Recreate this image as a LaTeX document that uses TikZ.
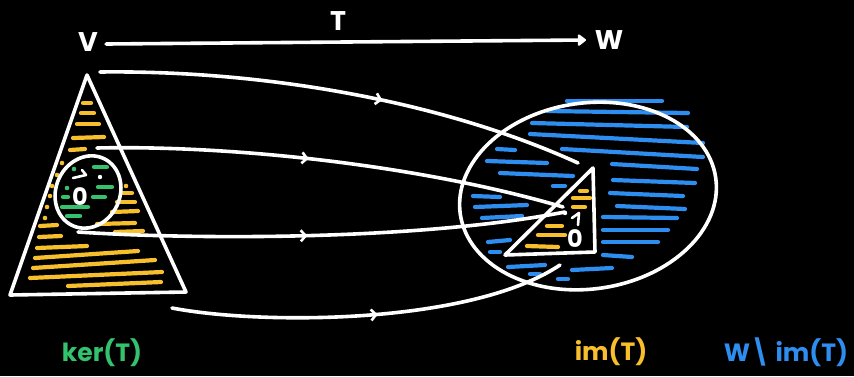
\documentclass[tikz,border=0pt]{standalone}
\usepackage{fontspec}
\setmainfont{Poppins}
\usetikzlibrary{arrows.meta,decorations.markings}
\definecolor{hyel}{HTML}{F7BF2B}
\definecolor{hgrn}{HTML}{34C36C}
\definecolor{hblu}{HTML}{2D8EF0}
\tikzset{
  wline/.style={draw=white,line width=3.6pt,line cap=round,line join=round},
  hy/.style={draw=hyel,line width=4.2pt,line cap=round},
  hg/.style={draw=hgrn,line width=4.2pt,line cap=round},
  hb/.style={draw=hblu,line width=4.2pt,line cap=round},
  harpline/.style={draw=white,line width=2.6pt,line cap=round,line join=round},
  flow/.style={wline,postaction={decorate},
    decoration={markings,mark=at position #1 with {\arrow[white,line width=2.6pt]{Straight Barb[length=5pt,width=11pt]}}}},
  lbl/.style={text=white,font=\fontsize{27}{30}\selectfont\bfseries,inner sep=0pt},
  bot/.style={font=\fontsize{25}{28}\selectfont\bfseries,inner sep=0pt},
  zero/.style={text=white,font=\fontsize{24}{26}\selectfont\bfseries,inner sep=0pt}
}
\begin{document}
\begin{tikzpicture}[x=1pt,y=-1pt]
\fill[black] (0,0) rectangle (854,376);
\useasboundingbox (0,0) rectangle (854,376);
% left triangle hatching (yellow)
\foreach \a/\b/\c/\d in {83/103/91/103, 81/113/94/113, 77/124/99/124, 73/138/104/137, 70/150/85/149,
  123/193/132/193, 117/202/135/202, 112/212/138/211, 97/224/135/223, 115/232/143/231,
  40/226/57/225, 39/237/61/236, 37/248/87/246, 35/258/138/251, 33/268/155/260, 30/278/162/272, 68/286/161/282}
  {\draw[hy] (\a,\b) -- (\c,\d);}
\foreach \p/\q in {62/163, 57/175, 52/186, 50/196, 47/207, 45/218, 126/186}
  {\fill[hyel] (\p,\q) circle (2.3pt);}
% green hatching in kernel
\foreach \a/\b/\c/\d in {94/167/107/167, 98/187/112/187, 63/197/68/197, 93/197/105/197, 62/207/88/207, 67/216/80/216}
  {\draw[hg] (\a,\b) -- (\c,\d);}
\foreach \p/\q in {74/169, 67/188}
  {\fill[hgrn] (\p,\q) circle (2.3pt);}
% blue hatching in W
\foreach \a/\b/\c/\d in {567/101/662/101, 547/111/688/113, 532/123/687/127, 530/134/703/143, 562/149/703/157,
  497/149/515/150, 487/161/547/163, 612/164/697/169, 500/173/573/176, 613/180/695/183, 553/186/565/186,
  473/196/500/197, 610/193/683/196, 475/207/527/205, 617/206/685/209, 482/218/522/216, 603/217/677/218,
  488/242/510/240, 603/230/668/230, 603/242/658/242, 490/252/500/252, 603/255/632/257, 508/267/545/265,
  530/274/540/274, 572/270/612/268, 558/279/568/279}
  {\draw[hb] (\a,\b) -- (\c,\d);}
% yellow hatching in image
\foreach \a/\b/\c/\d in {580/191/587/191, 573/198/590/198, 573/207/585/207, 547/226/562/226, 538/235/565/235, 527/246/558/247}
  {\draw[hy] (\a,\b) -- (\c,\d);}
% shapes
\draw[wline] (87,75) -- (186,292) -- (10,295) -- cycle;
\draw[wline,rotate around={-25:(88,192)}] (88,192) ellipse [x radius=32pt, y radius=37pt];
\draw[wline,rotate around={8:(588,196)}] (588,196) ellipse [x radius=129pt, y radius=93pt];
\draw[wline] (593,168) -- (595,252) -- (505,255) -- cycle;
% zero vectors
\node[zero] (z1) at (80,197) {0};
\draw[harpline] (73,178) -- (86,175) -- (82,170);
\node[zero] (z2) at (575,239) {0};
\draw[harpline] (578,225) -- (579,213) -- (572,218);
\fill[white] (100,177) circle (2.2pt);
\fill[white] (565,213) circle (2.2pt);
% labels
\node[lbl] (V) at (88,42) {V};
\node[lbl] (W) at (609,40) {W};
\node[lbl] (T) at (338,21) {T};
\draw[wline,-{Triangle[round,length=9pt,width=13pt]}] (V.east) ++(8,2) coordinate (va) (va) -- (586,40) coordinate (wa);
% mapping curves
\coordinate (s1) at (100,72);  \coordinate (e1) at (578,163);
\coordinate (s2) at (97,148);  \coordinate (e2) at (563,207);
\coordinate (s3) at (78,232);  \coordinate (e3) at (565,212);
\coordinate (s4) at (172,308); \coordinate (e4) at (560,265);
\draw[flow=0.58] (s1) .. controls (260,70) and (440,100) .. (e1);
\draw[flow=0.45] (s2) .. controls (230,145) and (420,165) .. (e2);
\draw[flow=0.47] (s3) .. controls (200,240) and (420,240) .. (e3);
\draw[flow=0.52] (s4) .. controls (260,325) and (470,325) .. (e4);
% bottom labels
\node[bot,text=hgrn] (kerl) at (102,353) {ker(T)};
\node[bot,text=hyel] (iml) at (611,352) {im(T)};
\node[bot,text=hblu] (wiml) at (786,352) {W\textbackslash\ im(T)};
\end{tikzpicture}
\end{document}
